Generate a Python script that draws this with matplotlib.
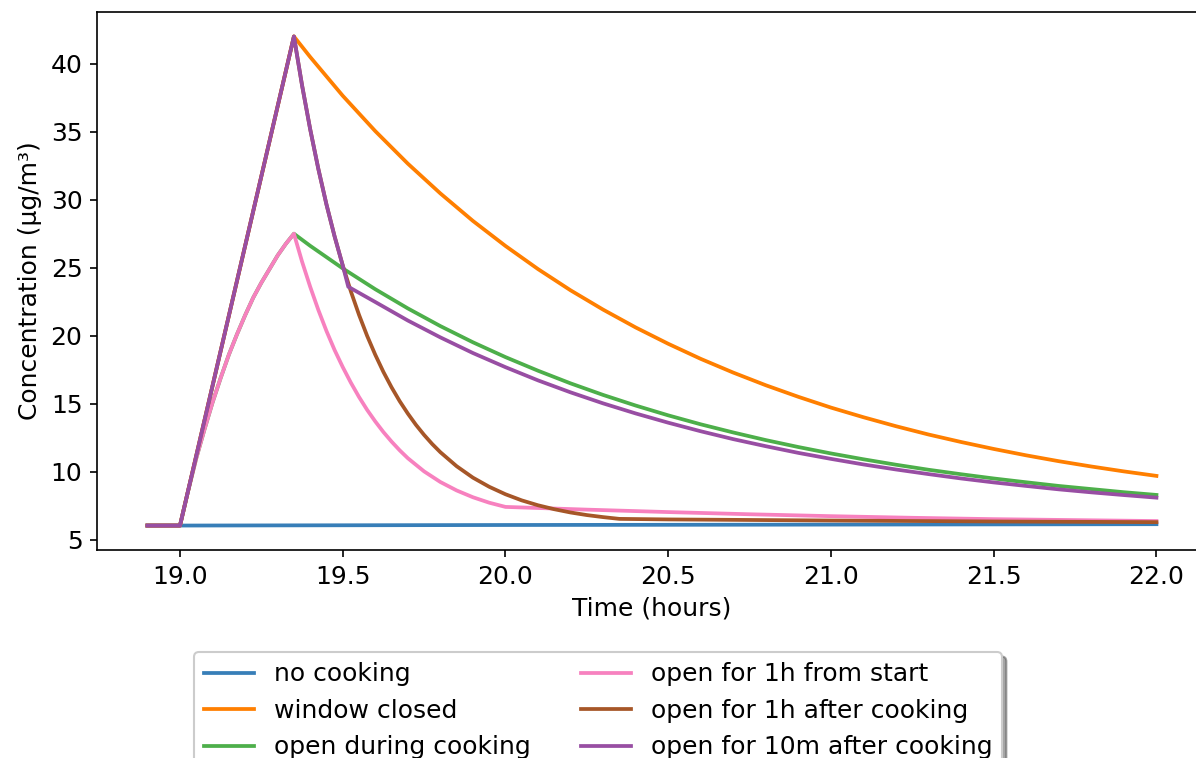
import matplotlib
matplotlib.use("Agg")
import matplotlib.pyplot as plt

plt.rcParams['font.size'] = 12

# valores (horas, ug/m3)
t_blue = [18.9, 19.0, 20.0, 21.0, 22.0]
c_blue = [6.05, 6.05, 6.09, 6.12, 6.15]

t_decay = [19.35, 19.4, 19.5, 19.6, 19.7, 19.8, 19.9, 20.0, 20.1, 20.2, 20.3,
           20.4, 20.5, 20.6, 20.7, 20.8, 20.9, 21.0, 21.1, 21.2, 21.3, 21.4,
           21.5, 21.6, 21.7, 21.8, 21.9, 22.0]
t_closed = [18.9, 19.0] + t_decay
c_closed = [6.05, 6.05, 42.0, 40.49, 37.64, 35.04, 32.65, 30.46, 28.44, 26.60,
            24.90, 23.34, 21.92, 20.61, 19.41, 18.30, 17.29, 16.36, 15.51,
            14.72, 14.01, 13.35, 12.74, 12.19, 11.68, 11.21, 10.78, 10.39,
            10.03, 9.70]

# subida con ventana abierta (rosa / verde)
t_rise_open = [18.9, 19.0, 19.025, 19.05, 19.075, 19.1, 19.125, 19.15, 19.175,
               19.2, 19.225, 19.25, 19.275, 19.3, 19.325]
c_rise_open = [6.05, 6.05, 8.6, 11.0, 13.1, 15.1, 16.9, 18.6, 20.1, 21.5,
               22.8, 23.9, 24.9, 25.9, 26.75]

t_during = t_rise_open + t_decay
c_during = c_rise_open + [27.5, 26.61, 24.95, 23.42, 22.01, 20.71, 19.52,
                          18.43, 17.43, 16.50, 15.65, 14.87, 14.15, 13.49,
                          12.89, 12.33, 11.82, 11.35, 10.92, 10.52, 10.15,
                          9.82, 9.51, 9.23, 8.96, 8.73, 8.50, 8.30]

t_start = t_rise_open + [19.35, 19.375, 19.4, 19.425, 19.45, 19.475, 19.5,
                         19.525, 19.55, 19.575, 19.6, 19.625, 19.65, 19.675,
                         19.7, 19.75, 19.8, 19.85, 19.9, 19.95, 20.0, 20.25,
                         20.5, 20.75, 21.0, 21.25, 21.5, 21.75, 22.0]
c_start = c_rise_open + [27.5, 25.45, 23.6, 21.9, 20.35, 18.95, 17.7, 16.55,
                         15.5, 14.55, 13.7, 12.92, 12.22, 11.58, 11.0, 10.03,
                         9.25, 8.63, 8.13, 7.73, 7.42, 7.22, 7.04, 6.88, 6.74,
                         6.62, 6.52, 6.45, 6.38]

t_after1h = [18.9, 19.0, 19.35, 19.375, 19.4, 19.425, 19.45, 19.475, 19.5,
             19.525, 19.55, 19.575, 19.6, 19.625, 19.65, 19.675, 19.7, 19.725,
             19.75, 19.775, 19.8, 19.85, 19.9, 19.95, 20.0, 20.05, 20.1, 20.15,
             20.2, 20.25, 20.3, 20.35, 20.5, 21.0, 21.5, 22.0]
c_after1h = [6.05, 6.05, 42.0, 38.41, 35.18, 32.27, 29.65, 27.30, 25.17,
             23.26, 21.54, 19.99, 18.60, 17.34, 16.21, 15.19, 14.28, 13.45,
             12.71, 12.04, 11.44, 10.41, 9.57, 8.90, 8.35, 7.90, 7.54, 7.25,
             7.01, 6.82, 6.67, 6.54, 6.50, 6.42, 6.35, 6.30]

t_after10m = [18.9, 19.0, 19.35, 19.375, 19.4, 19.425, 19.45, 19.475, 19.5,
              19.517, 19.6, 19.7, 19.8, 19.9, 20.0, 20.1, 20.2, 20.3, 20.4,
              20.5, 20.6, 20.7, 20.8, 20.9, 21.0, 21.1, 21.2, 21.3, 21.4,
              21.5, 21.6, 21.7, 21.8, 21.9, 22.0]
c_after10m = [6.05, 6.05, 42.0, 38.41, 35.18, 32.27, 29.65, 27.30, 25.17,
              23.6, 22.48, 21.12, 19.88, 18.73, 17.69, 16.72, 15.84, 15.03,
              14.29, 13.61, 12.98, 12.40, 11.88, 11.39, 10.95, 10.54, 10.17,
              9.83, 9.51, 9.22, 8.96, 8.71, 8.49, 8.29, 8.10]

fig = plt.figure(figsize=(11.96 / 1.5, 7.58 / 1.5), dpi=150)
ax = fig.add_axes([0.0811, 0.2744, 0.928, 0.7098])

lw = 1.8
ax.plot(t_blue, c_blue, color='#377eb8', lw=lw, label='no cooking')
ax.plot(t_closed, c_closed, color='#ff7f00', lw=lw, label='window closed')
ax.plot(t_during, c_during, color='#4daf4a', lw=lw, label='open during cooking')
ax.plot(t_start, c_start, color='#f781bf', lw=lw, label='open for 1h from start')
ax.plot(t_after1h, c_after1h, color='#a65628', lw=lw, label='open for 1h after cooking')
ax.plot(t_after10m, c_after10m, color='#984ea3', lw=lw, label='open for 10m after cooking')

ax.set_xlabel("Time (hours)")
ax.set_ylabel("Concentration (µg/m³)")
ax.set_xticks([19.0, 19.5, 20.0, 20.5, 21.0, 21.5, 22.0])
ax.spines['right'].set_visible(False)  # la imagen original esta recortada

ax.legend(loc='upper center', bbox_to_anchor=(0.5, 0.156),
          bbox_transform=fig.transFigure, ncol=2, shadow=True)

fig.savefig("out.png", dpi=150)
